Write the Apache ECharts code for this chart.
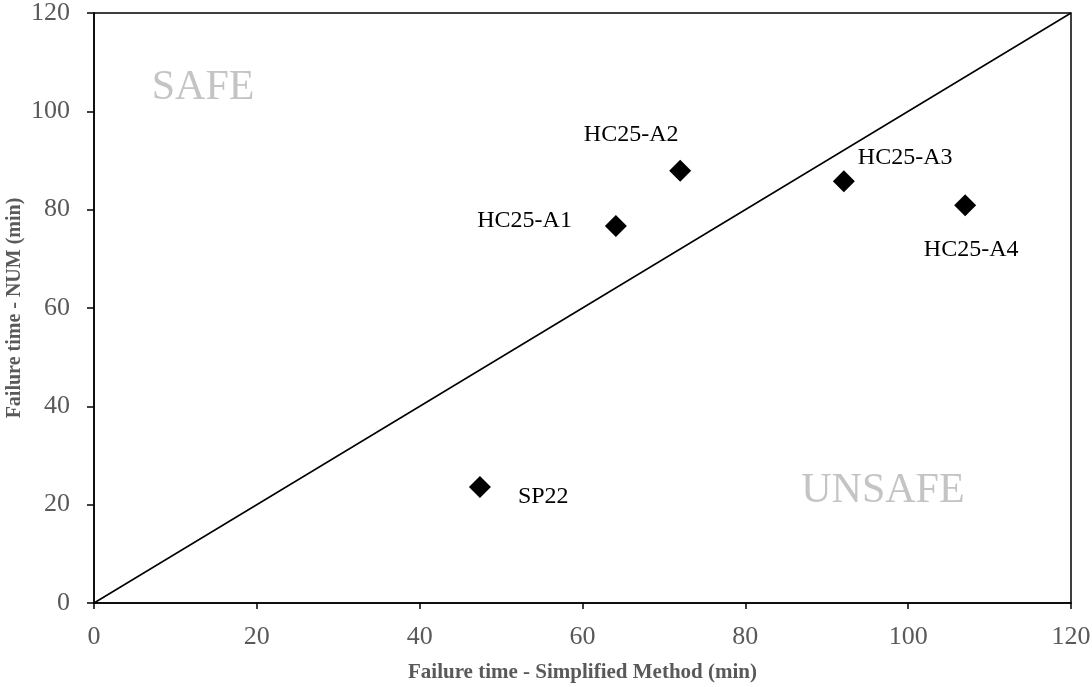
<!DOCTYPE html>
<html>
<head>
<meta charset="utf-8">
<script src="https://cdn.jsdelivr.net/npm/echarts@6/dist/echarts.min.js"></script>
<style>
  html, body { margin: 0; padding: 0; background: #fff; }
  #chart { width: 1092px; height: 687px; }
</style>
</head>
<body>
<div id="chart"></div>
<script>
// specimen names and failure times (min)
const names = ['SP22', 'HC25-A1', 'HC25-A2', 'HC25-A3', 'HC25-A4'];
const simplified = [47.4, 64.1, 72.0, 92.1, 107.0];
const numerical = [23.6, 76.7, 87.9, 85.8, 80.9];
// label placement per point: [align, dx, dy]
const labelPlace = [
    ['left', 38, 10],
    ['right', -44, -5],
    ['center', -49, -36],
    ['left', 14, -23],
    ['center', 6, 44]
];
// equality line and zone annotations
const diagonal = [[0, 0], [120, 120]];
const zones = [['SAFE', 13.4, 104.7], ['UNSAFE', 96.9, 22.8]];

const chart = echarts.init(document.getElementById('chart'));
const font = '"Liberation Serif", "Times New Roman", serif';

let option = {
    animation: false,
    grid: {
        left: 94, right: 21, top: 13, bottom: 84,
        containLabel: false, outerBoundsMode: 'none',
        show: true, borderColor: '#000', borderWidth: 1.5
    },
    xAxis: {
        type: 'value', min: 0, max: 120, interval: 20,
        name: 'Failure time - Simplified Method (min)',
        nameLocation: 'middle', nameGap: 59,
        nameMoveOverlap: false,
        nameTextStyle: { fontFamily: font, fontWeight: 'bold', fontSize: 21, color: '#595959' },
        axisLine: { show: true, lineStyle: { color: '#000', width: 1.5 } },
        axisTick: { show: true, inside: false, length: 6, lineStyle: { color: '#000', width: 1.5 } },
        axisLabel: { fontFamily: font, fontSize: 26, color: '#595959', margin: 21 },
        splitLine: { show: false }
    },
    yAxis: {
        type: 'value', min: 0, max: 120, interval: 20,
        name: 'Failure time - NUM (min)',
        nameLocation: 'middle', nameGap: 69,
        nameMoveOverlap: false,
        nameTextStyle: { fontFamily: font, fontWeight: 'bold', fontSize: 20, color: '#595959' },
        axisLine: { show: true, lineStyle: { color: '#000', width: 1.5 } },
        axisTick: { show: true, inside: false, length: 7, lineStyle: { color: '#000', width: 1.5 } },
        axisLabel: { fontFamily: font, fontSize: 26, color: '#595959', margin: 24 },
        splitLine: { show: false }
    },
    series: [
        {
            type: 'line',
            data: diagonal,
            symbol: 'none',
            lineStyle: { color: '#000', width: 1.5 },
            z: 1
        },
        {
            type: 'scatter',
            symbol: 'diamond',
            symbolSize: 22,
            itemStyle: { color: '#000', opacity: 1 },
            data: names.map((n, i) => ({
                value: [simplified[i], numerical[i]],
                name: n,
                label: {
                    show: true,
                    position: 'inside',
                    formatter: n,
                    align: labelPlace[i][0],
                    verticalAlign: 'middle',
                    offset: [labelPlace[i][1], labelPlace[i][2]],
                    fontFamily: font, fontSize: 24, color: '#000'
                }
            })),
            z: 3
        },
        {
            type: 'scatter',
            symbolSize: 0,
            silent: true,
            itemStyle: { opacity: 1 },
            data: zones.map(z => ({
                value: [z[1], z[2]],
                label: {
                    show: true, position: 'inside', formatter: z[0],
                    fontFamily: font, fontSize: 42, color: '#c4c4c4'
                }
            })),
            z: 2
        }
    ]
};
chart.setOption(option);
</script>
</body>
</html>
